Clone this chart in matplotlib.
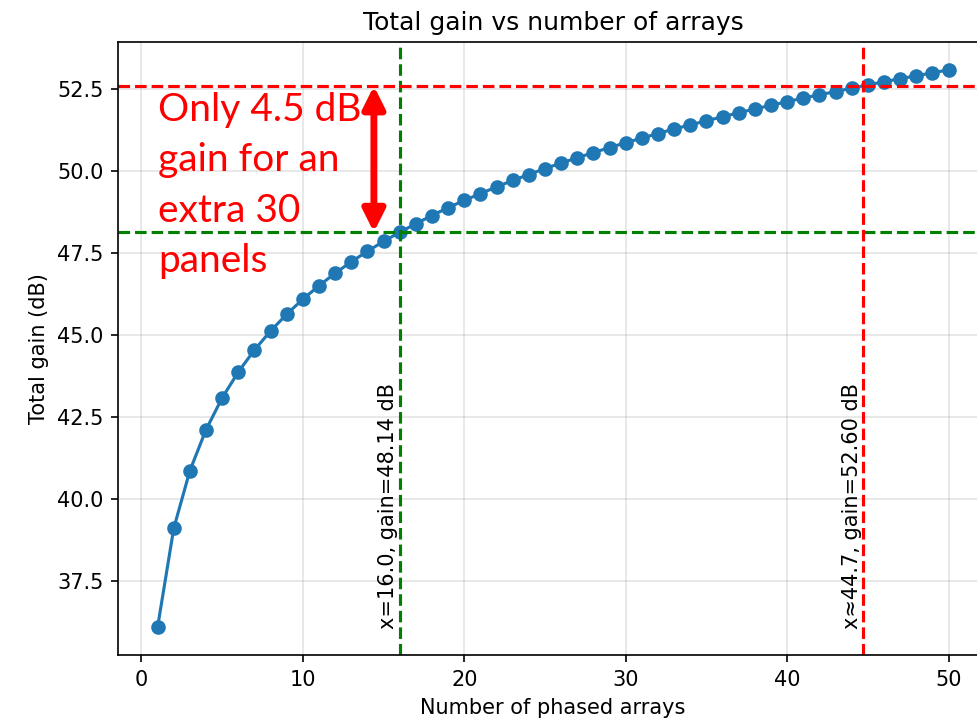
import numpy as np
import matplotlib
matplotlib.use('Agg')
import matplotlib.pyplot as plt

# number of phased arrays and total gain (dB)
n_arrays = list(range(1, 51))
gain_db = [36.10, 39.11, 40.87, 42.12, 43.09, 43.88, 44.55, 45.13, 45.64, 46.10,
           46.51, 46.89, 47.24, 47.56, 47.86, 48.14, 48.40, 48.65, 48.89, 49.11,
           49.32, 49.52, 49.72, 49.90, 50.08, 50.25, 50.41, 50.57, 50.72, 50.87,
           51.01, 51.15, 51.29, 51.41, 51.54, 51.66, 51.78, 51.90, 52.01, 52.12,
           52.23, 52.33, 52.43, 52.53, 52.63, 52.73, 52.82, 52.91, 53.00, 53.09]

x_ref, g_ref = 16.0, 48.14
x_hi, g_hi = 44.7, 52.60

fig = plt.figure(figsize=(978 / 150, 722 / 150), dpi=150)
ax = fig.add_axes([0.1207, 0.0928, 0.8896, 0.849])

ax.plot(n_arrays, gain_db, marker='o', color='tab:blue')
ax.grid(True, alpha=0.35)

ax.axhline(g_ref, color='green', ls='--')
ax.axvline(x_ref, color='green', ls='--')
ax.axhline(g_hi, color='red', ls='--')
ax.axvline(x_hi, color='red', ls='--')

ax.text(x_ref - 0.75, 36.05, f"x={x_ref:.1f}, gain={g_ref:.2f} dB", rotation=90,
        ha='center', va='bottom')
ax.text(x_hi - 0.7, 36.05, f"x\u2248{x_hi:.1f}, gain={g_hi:.2f} dB", rotation=90,
        ha='center', va='bottom')

# gain difference between the two marked points
ax.annotate('', xy=(14.4, g_hi), xytext=(14.4, g_ref),
            arrowprops=dict(arrowstyle='<|-|>', color='red', lw=3.3,
                            mutation_scale=22, shrinkA=0, shrinkB=0))
ax.text(1.05, 52.42, "Only 4.5 dB\ngain for an\nextra 30\npanels", color='red',
        fontsize=18.7, family='Lato', va='top', ha='left', linespacing=1.5)

ax.set_title("Total gain vs number of arrays")
ax.set_xlabel("Number of phased arrays")
ax.set_ylabel("Total gain (dB)")

fig.savefig("out.png", dpi=150)
